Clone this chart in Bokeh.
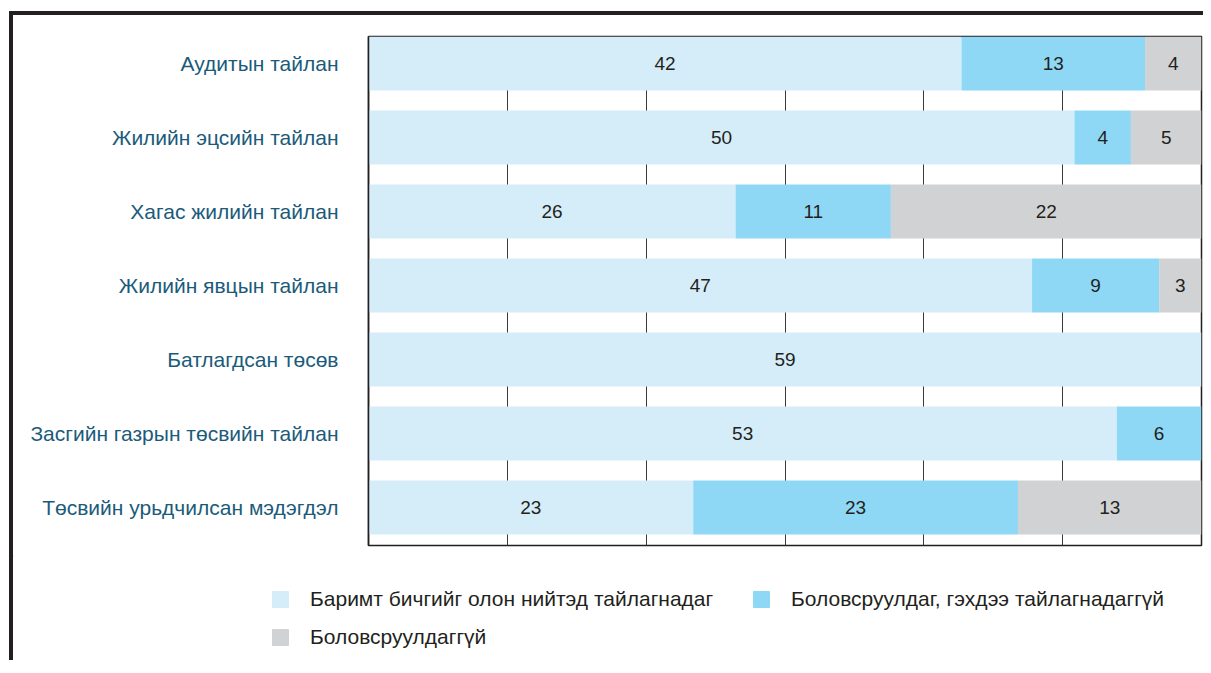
from bokeh.plotting import figure
from bokeh.models import (ColumnDataSource, FixedTicker, Range1d, Legend, LegendItem, Column)
from bokeh.core.properties import value
from bokeh.embed import file_html
from bokeh.resources import INLINE

categories = ["Аудитын тайлан", "Жилийн эцсийн тайлан", "Хагас жилийн тайлан",
              "Жилийн явцын тайлан", "Батлагдсан төсөв",
              "Засгийн газрын төсвийн тайлан", "Төсвийн урьдчилсан мэдэгдэл"]
published = [42, 50, 26, 47, 59, 53, 23]
produced_not_published = [13, 4, 11, 9, 0, 6, 23]
not_produced = [4, 5, 22, 3, 0, 0, 13]
series_names = ["Баримт бичгийг олон нийтэд тайлагнадаг",
                "Боловсруулдаг, гэхдээ тайлагнадаггүй",
                "Боловсруулдаггүй"]
colors = ["#d5edf9", "#8ed8f6", "#d1d2d4"]
total = 59

n = len(categories)
ypos = [n - 1 - i for i in range(n)]
src = ColumnDataSource(dict(y=ypos, a=published, b=produced_not_published, c=not_produced))

FONT = "Liberation Sans"
p = figure(width=1190, height=540, output_backend="svg", toolbar_location=None,
           x_range=Range1d(0, total), y_range=Range1d(-0.514, n - 1 + 0.365),
           min_border_left=355, min_border_top=21, min_border_right=2, min_border_bottom=10)
p.frame_align = False

rs = p.hbar_stack(["a", "b", "c"], y="y", height=0.73, color=colors, source=src, line_color=None)

# value labels
lx, ly, lt = [], [], []
for i in range(n):
    left = 0
    for vals in (published, produced_not_published, not_produced):
        v = vals[i]
        if v > 0:
            lx.append(left + v / 2)
            ly.append(ypos[i])
            lt.append(str(v))
        left += v
p.text(x=lx, y=ly, text=lt, text_align="center", text_baseline="middle",
       text_font=value(FONT), text_font_size="19px", text_color="#231f20")

p.xaxis.visible = False
p.xgrid.ticker = FixedTicker(ticks=[total * k / 6 for k in range(1, 6)])
p.xgrid.grid_line_color = "#3a3a3a"
p.xgrid.grid_line_width = 1
p.ygrid.grid_line_color = None

p.yaxis.ticker = FixedTicker(ticks=ypos)
p.yaxis.major_label_overrides = {ypos[i]: categories[i] for i in range(n)}
p.yaxis.major_label_text_font = FONT
p.yaxis.major_label_text_font_size = "21px"
p.yaxis.major_label_text_color = "#1b5b7a"
p.yaxis.major_label_standoff = 24
p.yaxis.major_tick_line_color = None
p.yaxis.minor_tick_line_color = None
p.yaxis.axis_line_color = "#231f20"
p.yaxis.axis_line_width = 1.5

p.outline_line_color = "#231f20"
p.outline_line_width = 1.5

# legend strip below the chart
lf = figure(width=1190, height=105, output_backend="svg", toolbar_location=None,
            x_range=Range1d(0, 1), y_range=Range1d(0, 1),
            min_border=0, min_border_left=0, min_border_right=0,
            min_border_top=0, min_border_bottom=0)
lf.frame_align = False
lf.axis.visible = False
lf.grid.visible = False
lf.outline_line_color = None
offscreen = ColumnDataSource(dict(y=[10], l=[0], r=[0]))
lrs = [lf.hbar(y="y", left="l", right="r", height=1, color=colors[k], source=offscreen)
       for k in range(3)]
order = [0, 2, 1]  # column-major fill: col 1 = items 0, 2; col 2 = item 1
items = [LegendItem(label=series_names[k], renderers=[lrs[k]]) for k in order]
legend = Legend(items=items, location=(257, 11), ncols=2,
                glyph_width=20, glyph_height=20, label_standoff=20, spacing=14,
                label_width=427,
                label_text_font=FONT, label_text_font_size="21px", label_text_color="#231f20",
                padding=0, margin=0, border_line_color=None, background_fill_alpha=0)
lf.add_layout(legend, "center")

layout = Column(p, lf, spacing=0,
                styles={"border-top": "4px solid #231f20", "border-left": "4px solid #231f20",
                        "margin-top": "11px", "margin-left": "9px"})

open("out.html", "w").write(file_html(layout, INLINE))
